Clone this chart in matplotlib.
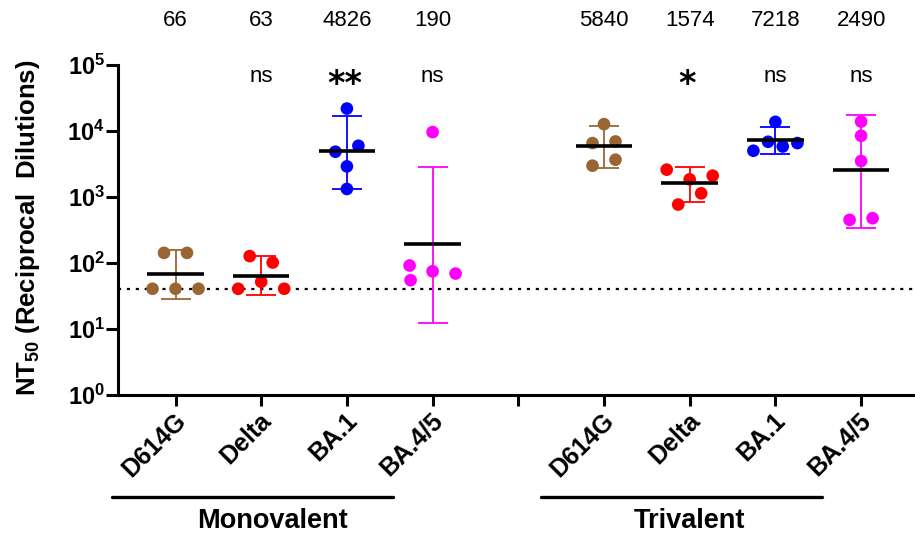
import numpy as np
import matplotlib
matplotlib.use("Agg")
import matplotlib.pyplot as plt
import matplotlib.transforms as mtransforms

# ---------------- data ----------------
categories = ["D614G", "Delta", "BA.1", "BA.4/5", "D614G", "Delta", "BA.1", "BA.4/5"]
groups = ["Monovalent", "Trivalent"]
point_values = [
    [140, 140, 40, 40, 40],              # Mono D614G
    [125, 100, 40, 51, 40],              # Mono Delta
    [21500, 4770, 5870, 2860, 1300],     # Mono BA.1
    [9460, 90, 73.5, 68, 54],            # Mono BA.4/5
    [12500, 6450, 6820, 2930, 3610],     # Tri D614G
    [2550, 1820, 2070, 755, 1117],       # Tri Delta
    [13530, 4935, 6750, 5730, 6450],     # Tri BA.1
    [13680, 8320, 3450, 443, 469],       # Tri BA.4/5
]
gmeans = [66, 63, 4826, 190, 5840, 1574, 7218, 2490]
err_low = [27.7, 32, 1303, 12.2, 2700, 829, 4340, 331]
err_high = [152, 125, 16860, 2830, 11500, 2830, 11380, 17460]
significance = ["", "ns", "**", "ns", "", "*", "ns", "ns"]
lod = 40
ytick_exps = [0, 1, 2, 3, 4, 5]

colors = ["#996633", "#FF0000", "#0000FF", "#FF00FF"] * 2
positions = [1, 2, 3, 4, 6, 7, 8, 9]

plt.rcParams["font.family"] = ["Liberation Sans", "DejaVu Sans"]
plt.rcParams["mathtext.fontset"] = "custom"
plt.rcParams["mathtext.rm"] = "Liberation Sans:bold"
plt.rcParams["mathtext.bf"] = "Liberation Sans:bold"
plt.rcParams["mathtext.it"] = "Liberation Sans:bold"
plt.rcParams["mathtext.default"] = "bf"

W, H = 915, 540
fig = plt.figure(figsize=(W / 100, H / 100), dpi=100)
ax = fig.add_axes([118 / W, 1 - 394.5 / H, 1 - 118 / W, (394.5 - 64.5) / H])
ax.set_yscale("log")
ax.set_ylim(1, 1e5)
ax.set_xlim(0.329, 9.629)

for s in ["top", "right"]:
    ax.spines[s].set_visible(False)
for s in ["left", "bottom"]:
    ax.spines[s].set_linewidth(2.2)
    ax.spines[s].set_capstyle("projecting")

ax.set_yticks([10.0 ** e for e in ytick_exps])
ax.set_yticklabels([r"$\mathbf{10^{%d}}$" % e for e in ytick_exps], fontsize=17)
ax.yaxis.set_minor_locator(matplotlib.ticker.NullLocator())
ax.tick_params(axis="y", length=8.5, width=2.2, pad=1)
ax.set_xticks(range(1, 10))
xlabels = categories[:4] + [""] + categories[4:]
ax.set_xticklabels(xlabels, rotation=45, ha="right", va="top",
                   rotation_mode="anchor", fontsize=18, fontweight="bold")
ax.tick_params(axis="x", length=8, width=2.2, pad=2)
offset = mtransforms.ScaledTranslation(-1.5 / 72, 0, fig.dpi_scale_trans)
for lab in ax.get_xticklabels():
    lab.set_transform(lab.get_transform() + offset)

# LOD dotted line
ax.axhline(lod, color="black", lw=1.6, linestyle=(0, (1.4, 2.6)),
           dash_capstyle="butt", zorder=1)

# --------- swarm layout in pixel space ---------
diam = 12.7
fig.canvas.draw()
px_per_unit = ax.transData.transform((2, 1))[0] - ax.transData.transform((1, 1))[0]


def swarm_offsets(pos, vals):
    ypx = np.array([ax.transData.transform((pos, v))[1] for v in vals])
    order = np.argsort(-ypx)  # top of picture first
    rows, cur = [], [order[0]]
    for idx in order[1:]:
        if abs(ypx[idx] - ypx[cur[0]]) < diam:
            cur.append(idx)
        else:
            rows.append(cur)
            cur = [idx]
    rows.append(cur)
    xoff = np.zeros(len(vals))
    placed = []
    for row in rows:
        row = sorted(row)
        n = len(row)
        sp = 23 if n <= 3 else 44 / (n - 1)
        base = [(i - (n - 1) / 2) * sp for i in range(n)]
        for shift in [0, -22, 22, -44, 44]:
            ok = True
            for k, idx in enumerate(row):
                for (px, py) in placed:
                    if np.hypot(base[k] + shift - px, ypx[idx] - py) < diam * 0.95:
                        ok = False
            if ok:
                break
        for k, idx in enumerate(row):
            xoff[idx] = base[k] + shift
            placed.append((xoff[idx], ypx[idx]))
    return xoff / px_per_unit


for i, pos in enumerate(positions):
    c = colors[i]
    ax.vlines(pos, err_low[i], err_high[i], color=c, lw=1.3, zorder=2)
    ax.hlines([err_low[i], err_high[i]], pos - 0.175, pos + 0.175, color=c, lw=1.3, zorder=2)
    vals = point_values[i]
    xo = swarm_offsets(pos, vals)
    ax.scatter(pos + xo, vals, s=9.1 ** 2, color=c, edgecolors="none", zorder=3)
    ax.hlines(gmeans[i], pos - 0.33, pos + 0.33, color="black", lw=2.6, zorder=4)

# top annotations
tr = mtransforms.blended_transform_factory(ax.transData, fig.transFigure)
for i, pos in enumerate(positions):
    ax.text(pos, 1 - 21 / H, str(gmeans[i]), transform=tr, ha="center", va="center",
            fontsize=16, clip_on=False)
    sig = significance[i]
    if sig:
        if "*" in sig:
            ax.text(pos - 0.03, 1 - 94 / H, sig, transform=tr, ha="center", va="baseline",
                    fontsize=24, fontweight="bold", family="DejaVu Sans", clip_on=False)
        else:
            ax.text(pos, 1 - 77 / H, sig, transform=tr, ha="center", va="center",
                    fontsize=16, clip_on=False)

# y label
fig.text(28 / W, 1 - 228 / H, r"NT$_{50}$ (Reciprocal  Dilutions)", rotation=90,
         ha="center", va="center", fontsize=18.5, fontweight="bold")

# group brackets
for g, (first, last, tx) in enumerate([(1, 4, 2.13), (6, 9, 7.0)]):
    x0 = first - 0.74
    x1 = last - 0.46
    ax.plot([x0, x1], [1 - 497 / H] * 2, transform=tr, color="black", lw=2.4,
            solid_capstyle="round", clip_on=False)
    ax.text(tx, 1 - 521 / H, groups[g], transform=tr, ha="center", va="center",
            fontsize=19.5, fontweight="bold", clip_on=False)

fig.savefig("out.png", dpi=100)
